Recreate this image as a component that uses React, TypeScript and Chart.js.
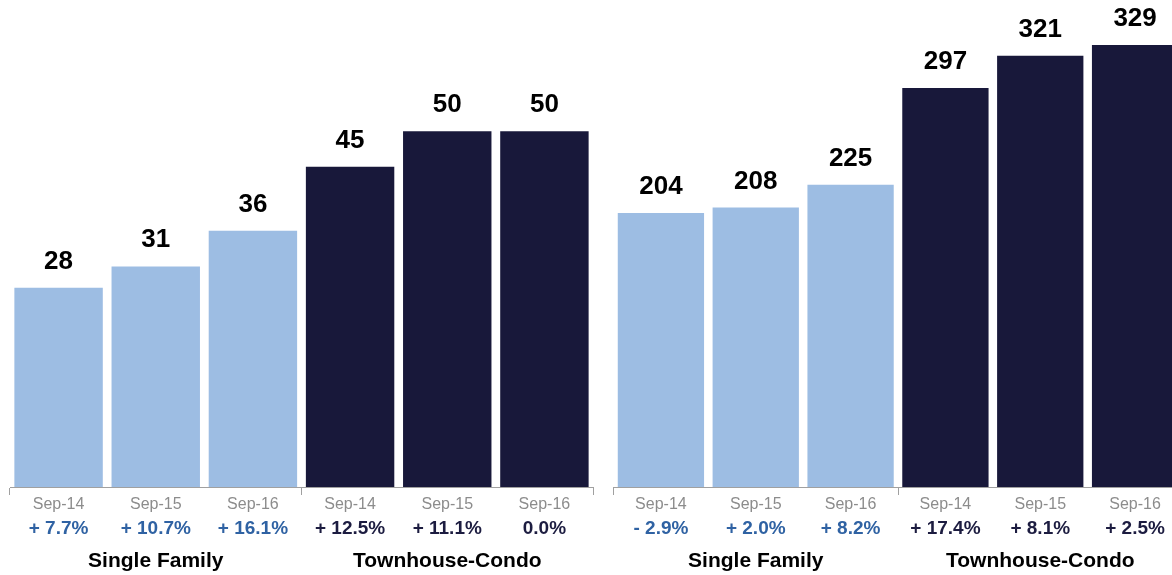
import React, { useEffect, useRef } from "react";
import { Chart, registerables } from "chart.js";

Chart.register(...registerables);

const periods = ["Sep-14", "Sep-15", "Sep-16", "Sep-14", "Sep-15", "Sep-16"];
const groupOfBar = [0, 0, 0, 1, 1, 1];
const groupNames = ["Single Family", "Townhouse-Condo"];

const leftValues = [28, 31, 36, 45, 50, 50];
const leftChanges = ["+ 7.7%", "+ 10.7%", "+ 16.1%", "+ 12.5%", "+ 11.1%", "0.0%"];

const rightValues = [204, 208, 225, 297, 321, 329];
const rightChanges = ["- 2.9%", "+ 2.0%", "+ 8.2%", "+ 17.4%", "+ 8.1%", "+ 2.5%"];

const BAR_COLORS = ["#9dbde3", "#18183a"];
const CHANGE_COLORS = ["#2f62a3", "#1c1c40"];
const FONT = "'Liberation Sans', Arial, Helvetica, sans-serif";

function makeLabelPlugin(changes: string[]) {
  return {
    id: "customLabels",
    afterDatasetsDraw(chart: any) {
      const ctx = chart.ctx;
      const meta = chart.getDatasetMeta(0);
      const data = chart.data.datasets[0].data as number[];
      ctx.save();
      ctx.textAlign = "center";
      ctx.textBaseline = "alphabetic";
      ctx.fillStyle = "#000";
      ctx.font = `bold 26px ${FONT}`;
      meta.data.forEach((bar: any, i: number) => {
        ctx.fillText(String(data[i]), bar.x, bar.y - 19);
      });
      ctx.restore();
    },
    afterDraw(chart: any) {
      const ctx = chart.ctx;
      const xs = chart.scales.x;
      ctx.save();
      ctx.textAlign = "center";
      ctx.textBaseline = "alphabetic";
      periods.forEach((p, i) => {
        const x = xs.getPixelForValue(i);
        ctx.font = `16px ${FONT}`;
        ctx.fillStyle = "#8c8c8c";
        ctx.fillText(p, x, 509);
        ctx.font = `bold 19px ${FONT}`;
        ctx.fillStyle = CHANGE_COLORS[groupOfBar[i]];
        ctx.fillText(changes[i], x, 534);
      });
      ctx.font = `bold 21px ${FONT}`;
      ctx.fillStyle = "#000";
      groupNames.forEach((g, gi) => {
        const x = xs.getPixelForValue(gi * 3 + 1);
        ctx.fillText(g, x, 567);
      });
      ctx.restore();
    },
  };
}

function BarPanel(props: {
  values: number[];
  changes: string[];
  yMax: number;
  padding: { left: number; right: number; top: number; bottom: number };
  left: number;
  width: number;
}) {
  const ref = useRef<HTMLCanvasElement | null>(null);
  useEffect(() => {
    if (!ref.current) return;
    const chart = new Chart(ref.current, {
      type: "bar",
      data: {
        labels: periods,
        datasets: [
          {
            data: props.values,
            backgroundColor: props.values.map((_, i) => BAR_COLORS[groupOfBar[i]]),
            borderWidth: 0,
            barPercentage: 0.91,
            categoryPercentage: 1,
          },
        ],
      },
      options: {
        animation: false,
        responsive: false,
        maintainAspectRatio: false,
        layout: { padding: props.padding },
        plugins: {
          legend: { display: false },
          tooltip: { enabled: false },
          title: { display: false },
        },
        scales: {
          x: {
            display: true,
            offset: true,
            grid: {
              display: true,
              offset: true,
              drawOnChartArea: false,
              drawTicks: true,
              tickLength: 8,
              lineWidth: 1,
              color: (c: any) =>
                c.index === 0 || c.index === 3 || c.index === undefined || c.index >= 6
                  ? "#a0a0a0"
                  : "rgba(0,0,0,0)",
            },
            border: { display: true, color: "#a0a0a0", width: 1 },
            ticks: { display: false },
          },
          y: {
            display: false,
            min: 0,
            max: props.yMax,
          },
        },
      },
      plugins: [makeLabelPlugin(props.changes)],
    });
    return () => chart.destroy();
  }, []);
  return (
    <canvas
      ref={ref}
      width={props.width}
      height={575}
      style={{ position: "absolute", left: props.left, top: 0, width: props.width, height: 575 }}
    />
  );
}

export default function App() {
  useEffect(() => {
    document.body.style.margin = "0";
  }, []);
  return (
    <div
      style={{
        position: "fixed",
        left: 0,
        top: 0,
        width: 1172,
        height: 575,
        overflow: "hidden",
        background: "#ffffff",
      }}
    >
      <BarPanel
        values={leftValues}
        changes={leftChanges}
        yMax={60}
        padding={{ left: 10, right: 7, top: 60, bottom: 80 }}
        left={0}
        width={600}
      />
      <BarPanel
        values={rightValues}
        changes={rightChanges}
        yMax={360}
        padding={{ left: 13.5, right: 17.5, top: 3.4, bottom: 80 }}
        left={600}
        width={600}
      />
    </div>
  );
}
